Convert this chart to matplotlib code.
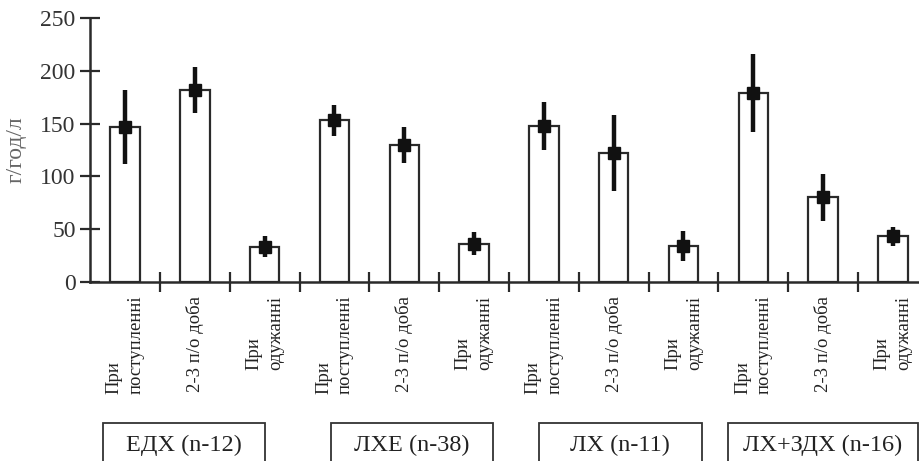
import matplotlib
matplotlib.use("Agg")
import matplotlib.pyplot as plt
import matplotlib.transforms as mtransforms
from matplotlib.patches import Rectangle
import numpy as np

# ---- data ----
stage_labels = ["При\nпоступленні", "2-3 п/о доба", "При\nодужанні"]
groups = ["ЕДХ (n-12)", "ЛХЕ (n-38)", "ЛХ (n-11)", "ЛХ+ЗДХ (n-16)"]
means = [147, 182, 33,
         153, 130, 36,
         148, 122, 34,
         179, 80, 43]
errors = [35, 22, 10,
          15, 17, 11,
          23, 36, 14,
          37, 22, 9]
y_ticks = [0, 50, 100, 150, 200, 250]
y_label = "г/год/л"

# group box extents in category units (layout)
box_extents = [(-0.32, 2.0), (2.95, 5.27), (5.93, 8.26), (8.64, 11.36)]

plt.rcParams['font.family'] = ['Liberation Serif', 'DejaVu Serif']
W, H = 919, 461
fig = plt.figure(figsize=(W / 100, H / 100), dpi=100)

ax_left = 90.2 / W
ax_bottom = (H - 281.7) / H
ax_height = (281.7 - 18.3) / H
ax_width = 12 * 69.8 / W
ax = fig.add_axes([ax_left, ax_bottom, ax_width, ax_height])

n = len(means)
x = np.arange(n)
tick_labels = stage_labels * len(groups)

ax.bar(x, means, width=0.42, color='white', edgecolor='#2a2a2a', linewidth=1.6, zorder=2)
ax.errorbar(x, means, yerr=errors, fmt='s', color='#111111', ecolor='#111111',
            elinewidth=3.2, markersize=8, capsize=0, zorder=3)

ax.set_xlim(-0.5, n - 0.5)
ax.set_ylim(0, 250)
ax.set_yticks(y_ticks)
ax.set_yticklabels([str(v) for v in y_ticks], fontsize=17, color='#333333')

ax.set_xticks(x)
ax.set_xticklabels(tick_labels, rotation=90, fontsize=13.5, color='#222222',
                   va='top', ha='center', multialignment='left', linespacing=1.35)
ax.set_xticks(np.arange(0.5, n - 0.5 + 1, 1.0), minor=True)
ax.tick_params(axis='x', which='major', length=0, pad=10)
ax.tick_params(axis='x', which='minor', direction='inout', length=14, width=1.6, color='#2a2a2a')
ax.tick_params(axis='y', direction='inout', length=15, width=1.6, color='#2a2a2a', pad=3)

for s in ['top', 'right']:
    ax.spines[s].set_visible(False)
for s in ['left', 'bottom']:
    ax.spines[s].set_linewidth(1.8)
    ax.spines[s].set_color('#2a2a2a')

ax.set_ylabel(y_label, fontsize=17, color='#666666', labelpad=10)

# group boxes
trans = mtransforms.blended_transform_factory(ax.transData, fig.transFigure)
box_top = (H - 423) / H
for (x0, x1), g in zip(box_extents, groups):
    r = Rectangle((x0, -0.2), x1 - x0, box_top + 0.2, transform=trans,
                  fill=False, edgecolor='#333333', linewidth=1.3, clip_on=False)
    ax.add_patch(r)
    ax.text((x0 + x1) / 2, (H - 445) / H, g, transform=trans, ha='center', va='center',
            fontsize=17.5, color='#222222')

fig.savefig("out.png", dpi=100)
